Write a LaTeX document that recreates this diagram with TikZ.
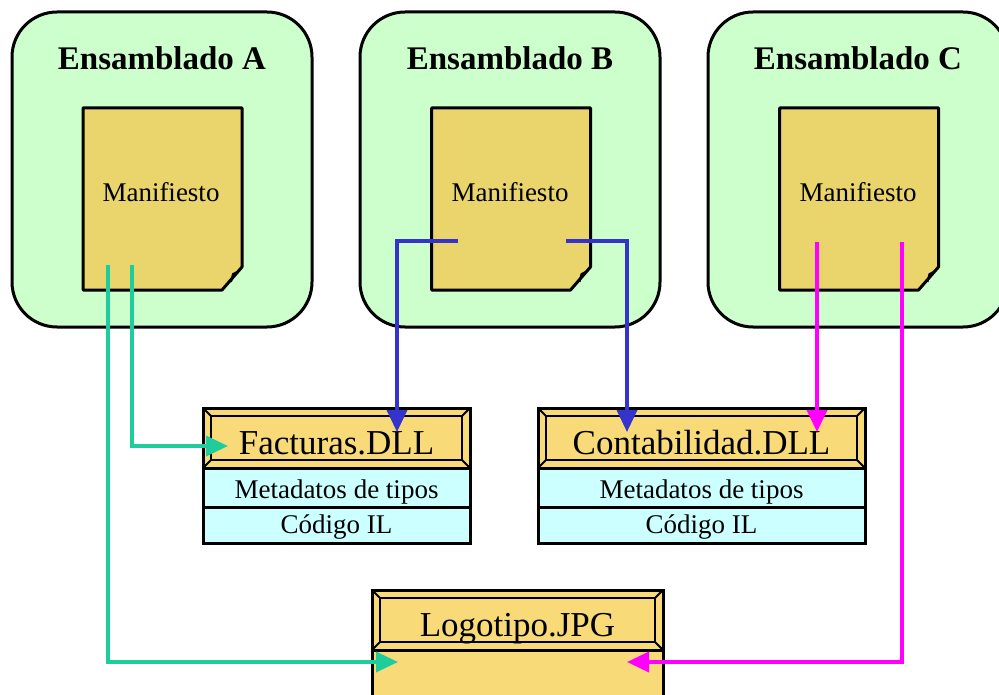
\documentclass[tikz,border=0pt]{standalone}
\usepackage{fontspec}
\setmainfont{Liberation Serif}
\usetikzlibrary{arrows.meta,calc}
\definecolor{asmgreen}{HTML}{CCFFCC}
\definecolor{manyellow}{HTML}{EAD46C}
\definecolor{hdryellow}{HTML}{F8DA78}
\definecolor{rowcyan}{HTML}{CCFFFF}
\definecolor{lgreen}{HTML}{1ECC9C}
\definecolor{lblue}{HTML}{3434CC}
\definecolor{lmag}{HTML}{FF00FF}
\tikzset{
  asmbox/.style={draw=black, line width=3pt, fill=asmgreen, rounded corners=45pt,
    minimum width=300pt, minimum height=315pt, inner sep=0pt, outer sep=0pt},
  asmtitle/.style={anchor=base, inner sep=0pt, font=\fontsize{33}{36}\selectfont\bfseries},
  manbox/.style={draw=none, minimum width=159pt, minimum height=182pt, inner sep=0pt, outer sep=0pt},
  manline/.style={draw=black, line width=3pt, fill=manyellow, line join=round},
  smalltext/.style={anchor=base, inner sep=0pt, font=\fontsize{27}{30}\selectfont},
  hdrtext/.style={anchor=base, inner sep=0pt, font=\fontsize{35}{38}\selectfont},
  hdrbox/.style={draw=black, line width=3pt, fill=hdryellow, minimum height=60pt, inner sep=0pt, outer sep=0pt},
  bevel/.style={draw=black, line width=2pt},
  rowbox/.style={draw=black, line width=3pt, fill=rowcyan, inner sep=0pt, outer sep=0pt},
  bodybox/.style={draw=black, line width=3pt, fill=hdryellow, inner sep=0pt, outer sep=0pt},
  conn/.style={line width=3.5pt, -{Triangle[length=22pt,width=20pt]}},
  gline/.style={conn, draw=lgreen},
  bline/.style={conn, draw=lblue},
  mline/.style={conn, draw=lmag},
}
\newcommand\manifest[3]{%
  \node[manbox] (#1) at (#2,#3) {};
  \draw[manline] (#1.north west) -- (#1.north east) -- ($(#1.south east)+(0,-23)$)
     -- ($(#1.south east)+(-20,0)$) -- (#1.south west) -- cycle;
  \draw[black, line width=2pt, line join=round] ($(#1.south east)+(-3,-19)$) -- ($(#1.south east)+(-9,-16)$)
     -- ($(#1.south east)+(-11,-8)$);
}
\newcommand\hdr[5]{% name, cx, cy, width, text
  \node[hdrbox, minimum width=#4pt] (#1) at (#2,#3) {};
  \draw[bevel] ($(#1.north west)+(8,8)$) rectangle ($(#1.south east)+(-8,-8)$);
  \draw[bevel] (#1.north west) -- ($(#1.north west)+(8,8)$);
  \draw[bevel] (#1.north east) -- ($(#1.north east)+(-8,8)$);
  \draw[bevel] (#1.south west) -- ($(#1.south west)+(8,-8)$);
  \draw[bevel] (#1.south east) -- ($(#1.south east)+(-8,-8)$);
  \node[hdrtext] (#1t) at ($(#1.center)+(0,16)$) {#5};
}
\begin{document}
\begin{tikzpicture}[x=1pt,y=-1pt]
\useasboundingbox (0,0) rectangle (999,695);
\clip (0,0) rectangle (999,695);
\fill[white] (0,0) rectangle (999,695);

% assemblies
\node[asmbox] (asmA) at (162,169.5) {};
\node[asmbox] (asmB) at (510,169.5) {};
\node[asmbox] (asmC) at (858,169.5) {};
\node[asmtitle] (tA) at (162,70) {Ensamblado A};
\node[asmtitle] (tB) at (510,70) {Ensamblado B};
\node[asmtitle] (tC) at (858,70) {Ensamblado C};

% manifests
\manifest{mA}{162.5}{199}
\manifest{mB}{511}{199}
\manifest{mC}{859}{199}
\node[smalltext] (mAt) at (161,202) {Manifiesto};
\node[smalltext] (mBt) at (510,202) {Manifiesto};
\node[smalltext] (mCt) at (858,202) {Manifiesto};

% Facturas.DLL
\hdr{facH}{336.5}{438}{267}{Facturas.DLL}
\node[rowbox, minimum width=267pt, minimum height=39pt] (facM) at (336.5,487.5) {};
\node[rowbox, minimum width=267pt, minimum height=36pt] (facC) at (336.5,525) {};
\node[smalltext] (facMt) at (336.5,498) {Metadatos de tipos};
\node[smalltext] (facCt) at (336.5,533) {Código IL};

% Contabilidad.DLL
\hdr{conH}{701.5}{438}{327}{Contabilidad.DLL}
\node[rowbox, minimum width=327pt, minimum height=39pt] (conM) at (701.5,487.5) {};
\node[rowbox, minimum width=327pt, minimum height=36pt] (conC) at (701.5,525) {};
\node[smalltext] (conMt) at (701.5,498) {Metadatos de tipos};
\node[smalltext] (conCt) at (701.5,533) {Código IL};

% Logotipo.JPG
\node[bodybox, minimum width=291pt, minimum height=80pt] (logB) at (517.5,690) {};
\hdr{logH}{517.5}{620}{291}{Logotipo.JPG}

% connector end points
\coordinate (a1s) at (132,265);
\coordinate (a2s) at (108,265);
\coordinate (b1s) at (458,241);
\coordinate (b2s) at (566,241);
\coordinate (c1s) at (817,242);
\coordinate (c2s) at (902,242);
\coordinate (facIn) at (228,446);
\coordinate (facTop) at (397,432);
\coordinate (conTopB) at (627,432);
\coordinate (conTopC) at (817,432);
\coordinate (logL) at (398,662);
\coordinate (logR) at (627,662);

\draw[gline] (a1s) |- (facIn);
\draw[gline] (a2s) |- (logL);
\draw[bline] (b1s) -| (facTop);
\draw[bline] (b2s) -| (conTopB);
\draw[mline] (c1s) -- (conTopC);
\draw[mline] (c2s) |- (logR);
\end{tikzpicture}
\end{document}
